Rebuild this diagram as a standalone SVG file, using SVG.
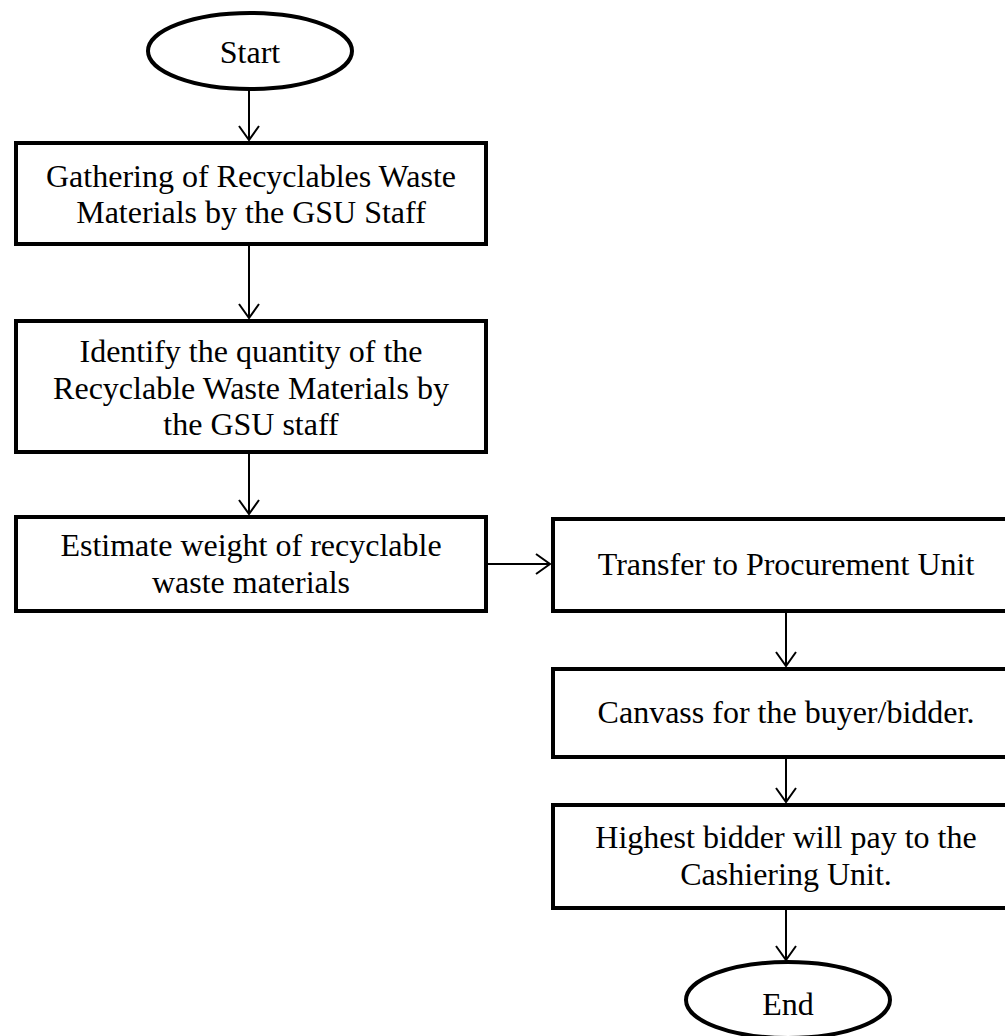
<svg xmlns="http://www.w3.org/2000/svg" width="1005" height="1036" viewBox="0 0 1005 1036">
<style>
.box{fill:#fff;stroke:#000;stroke-width:4}
.term{fill:#fff;stroke:#000;stroke-width:4}
.t{font-family:"Liberation Serif","Times New Roman",serif;font-size:32px;fill:#000;text-anchor:middle}
.c{fill:none;stroke:#000;stroke-width:2}
</style>
<defs>
<marker id="arr" markerUnits="userSpaceOnUse" viewBox="-16 -12 18 24" refX="0" refY="0" markerWidth="18" markerHeight="24" orient="auto">
<path d="M-14,-10 L0,0 L-14,10" fill="none" stroke="#000" stroke-width="2"/>
</marker>
</defs>
<rect width="1005" height="1036" fill="#fff"/>
<g id="connectors">
<line class="c" x1="249" y1="90" x2="249" y2="140" marker-end="url(#arr)"/>
<line class="c" x1="249" y1="246" x2="249" y2="318" marker-end="url(#arr)"/>
<line class="c" x1="249" y1="454" x2="249" y2="514" marker-end="url(#arr)"/>
<line class="c" x1="488" y1="564" x2="550" y2="564" marker-end="url(#arr)"/>
<line class="c" x1="786" y1="613" x2="786" y2="666" marker-end="url(#arr)"/>
<line class="c" x1="786" y1="759" x2="786" y2="802" marker-end="url(#arr)"/>
<line class="c" x1="786" y1="910" x2="786" y2="960" marker-end="url(#arr)"/>
</g>
<g id="start">
<ellipse class="term" cx="250" cy="51" rx="102" ry="38"/>
<text class="t" x="250" y="63">Start</text>
</g>
<g id="gather">
<rect class="box" x="16" y="143" width="470" height="101"/>
<text class="t" x="251" y="187">Gathering of Recyclables Waste</text>
<text class="t" x="251" y="223">Materials by the GSU Staff</text>
</g>
<g id="identify">
<rect class="box" x="16" y="321" width="470" height="131"/>
<text class="t" x="251" y="362">Identify the quantity of the</text>
<text class="t" x="251" y="399">Recyclable Waste Materials by</text>
<text class="t" x="251" y="435">the GSU staff</text>
</g>
<g id="estimate">
<rect class="box" x="16" y="517" width="470" height="94"/>
<text class="t" x="251" y="556">Estimate weight of recyclable</text>
<text class="t" x="251" y="593">waste materials</text>
</g>
<g id="transfer">
<rect class="box" x="553" y="519" width="470" height="92"/>
<text class="t" x="786" y="575">Transfer to Procurement Unit</text>
</g>
<g id="canvass">
<rect class="box" x="553" y="669" width="470" height="88"/>
<text class="t" x="786" y="723">Canvass for the buyer/bidder.</text>
</g>
<g id="highest">
<rect class="box" x="553" y="805" width="470" height="103"/>
<text class="t" x="786" y="848">Highest bidder will pay to the</text>
<text class="t" x="786" y="885">Cashiering Unit.</text>
</g>
<g id="end">
<ellipse class="term" cx="788" cy="1000" rx="102" ry="38"/>
<text class="t" x="788" y="1015">End</text>
</g>
</svg>
